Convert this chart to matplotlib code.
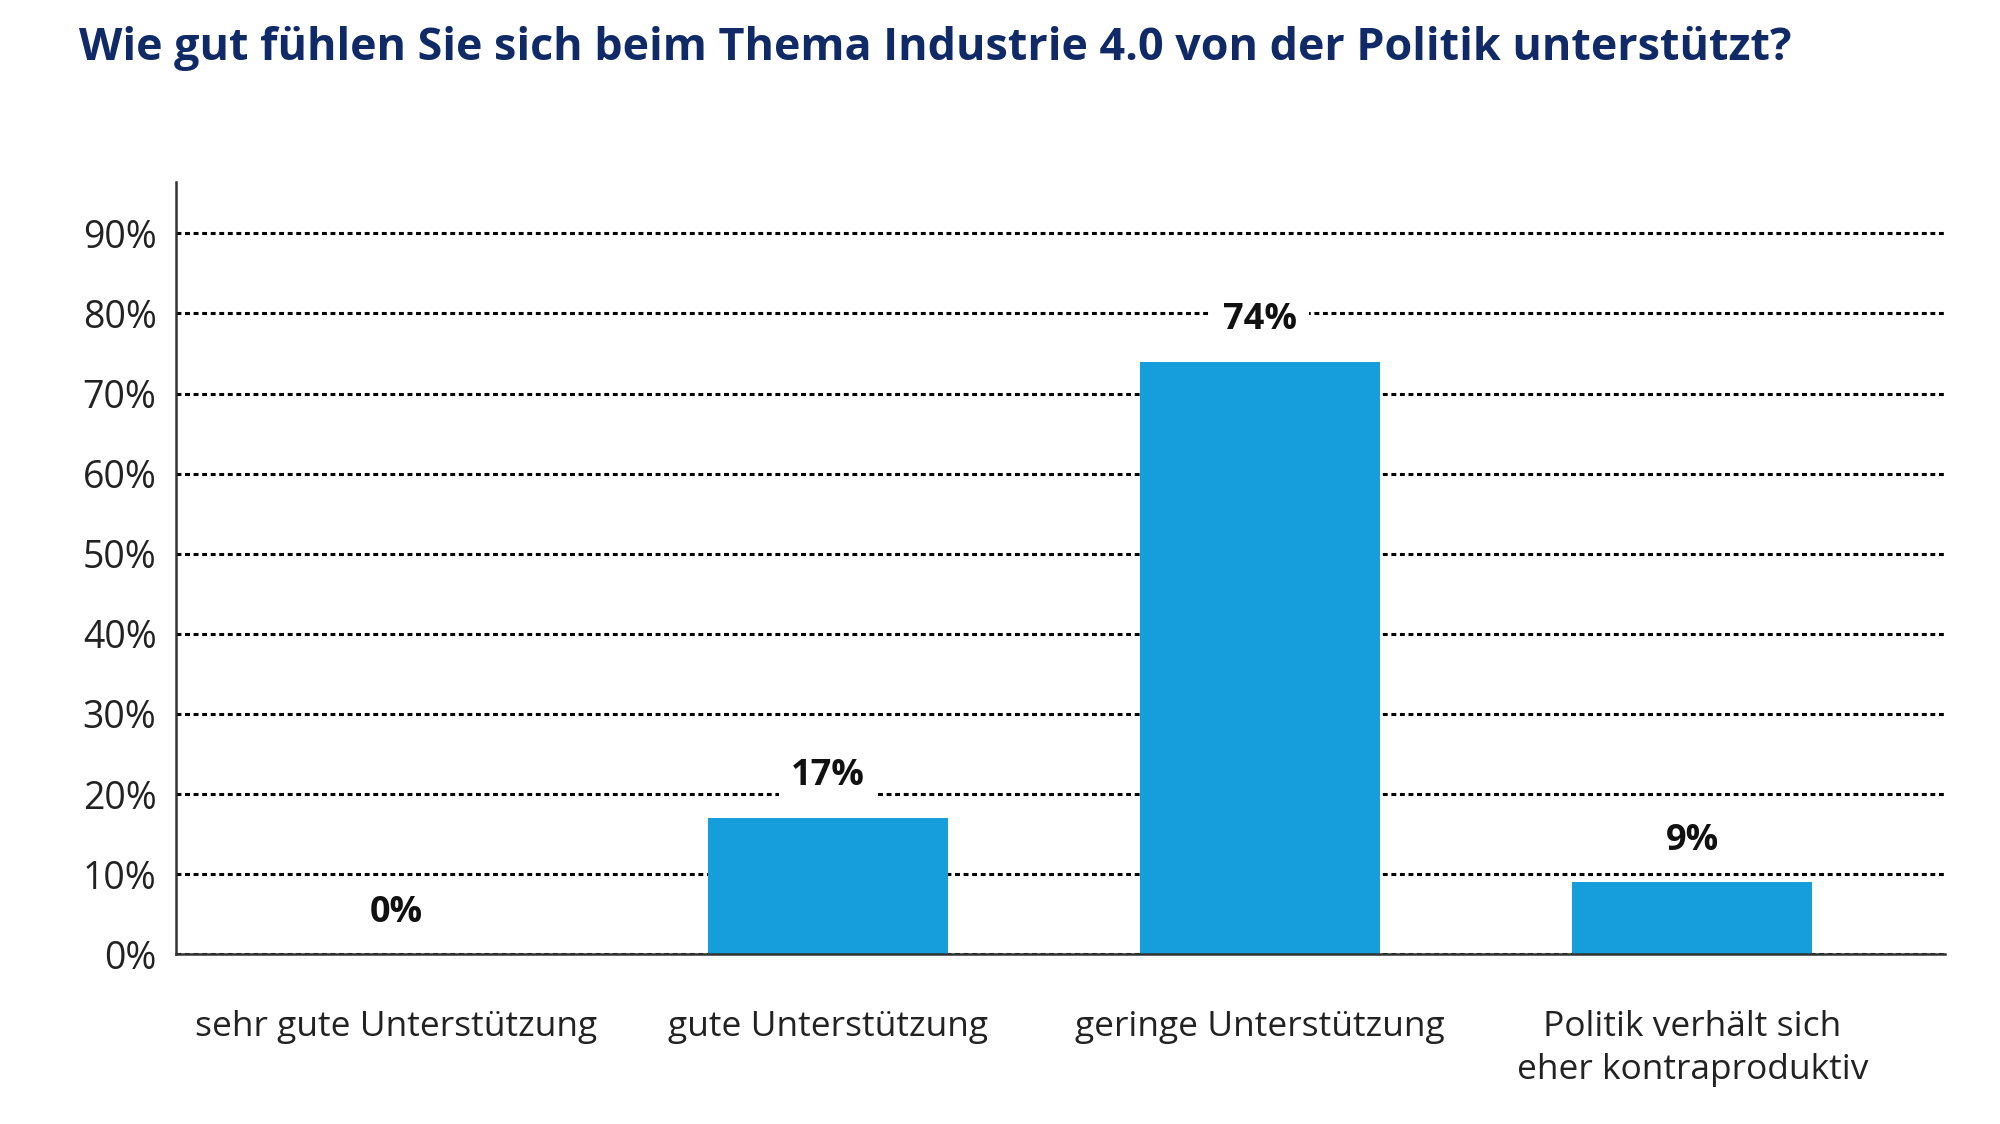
import matplotlib.pyplot as plt
import numpy as np

# daten
categories = ['sehr gute Unterstützung', 'gute Unterstützung',
              'geringe Unterstützung', 'Politik verhält sich\neher kontraproduktiv']
values = [0, 17, 74, 9]
yticks = [0, 10, 20, 30, 40, 50, 60, 70, 80, 90]
title = 'Wie gut fühlen Sie sich beim Thema Industrie 4.0 von der Politik unterstützt?'

bar_color = '#169ddb'
navy = '#0f2a66'

plt.rcParams['font.family'] = ['Open Sans', 'DejaVu Sans']

fig = plt.figure(figsize=(20, 11.24), dpi=100)
ax = fig.add_axes([0.088, 0.151, 0.8845, 0.687])

x = np.arange(len(categories))
ax.bar(x, values, width=0.555, color=bar_color, zorder=3)

# wertbeschriftung mit weissem hintergrund (unterbricht die gitterlinie)
for xi, v in zip(x, values):
    ax.annotate(f'{v}%', (xi, v), xytext=(0, 30), textcoords='offset points',
                ha='center', va='center', fontsize=26, fontweight='bold',
                color='#111111', zorder=2,
                bbox=dict(boxstyle='square,pad=0.33', fc='white', ec='none'))

ax.set_xlim(-0.51, 3.585)
ax.set_ylim(0, 96.4)
ax.set_yticks(yticks)
ax.set_yticklabels([f'{t}%' for t in yticks], fontsize=27, color='#222222')
ax.set_xticks(x)
ax.set_xticklabels(categories, fontsize=25.5, color='#222222', linespacing=1.35)
ax.tick_params(axis='both', length=0)
ax.tick_params(axis='y', pad=14)
ax.tick_params(axis='x', pad=40)

ax.yaxis.grid(True, color='#000000', linestyle=(0, (1.6, 1.2)), linewidth=2.2, zorder=1)
ax.set_axisbelow(True)

for s in ['top', 'right']:
    ax.spines[s].set_visible(False)
for s in ['left', 'bottom']:
    ax.spines[s].set_color('#333333')
    ax.spines[s].set_linewidth(1.8)
    ax.spines[s].set_zorder(4)

fig.text(0.0395, 0.957, title, fontsize=32.3, fontweight='bold', color=navy,
         ha='left', va='center')

fig.savefig('out.png', dpi=100, facecolor='white')
